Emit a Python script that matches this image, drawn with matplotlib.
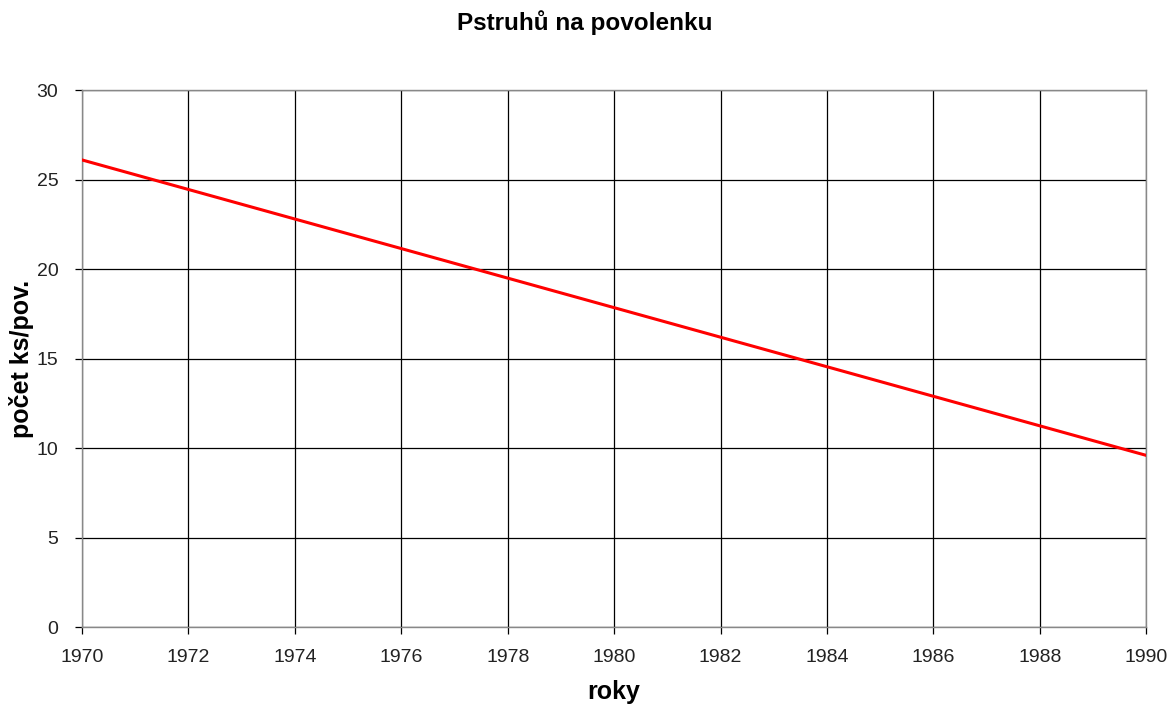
import matplotlib
matplotlib.use("Agg")
import matplotlib.pyplot as plt

# trend line endpoints
years = [1970, 1990]
values = [26.1, 9.6]
x_ticks = list(range(1970, 1991, 2))
y_ticks = list(range(0, 31, 5))

plt.rcParams['font.family'] = ['Liberation Sans', 'DejaVu Sans']

fig = plt.figure(figsize=(11.72, 7.04), dpi=100)
ax = fig.add_axes([0.070, 0.109, 0.908, 0.763])

ax.plot(years, values, color='#ff0000', linewidth=2.2, zorder=3)

ax.set_xlim(1970, 1990)
ax.set_ylim(0, 30)
ax.set_xticks(x_ticks)
ax.set_yticks(y_ticks)
ax.grid(True, color='black', linewidth=0.9)
ax.set_axisbelow(True)

for s in ax.spines.values():
    s.set_color('#888888')
    s.set_linestyle((0, (1, 1)))
    s.set_linewidth(1.0)

ax.tick_params(direction='out', length=5, width=0.9, color='black',
               labelsize=14, labelcolor='#222222', pad=11)
ax.tick_params(axis='y', pad=12)

fig.text(0.499, 0.968, 'Pstruhů na povolenku', fontsize=17.5, fontweight='bold',
         ha='center', va='center')
ax.set_xlabel('roky', fontsize=18, fontweight='bold', labelpad=10)
ax.set_ylabel('počet ks/pov.', fontsize=18, fontweight='bold', labelpad=2)

fig.savefig('out.png', dpi=100)
